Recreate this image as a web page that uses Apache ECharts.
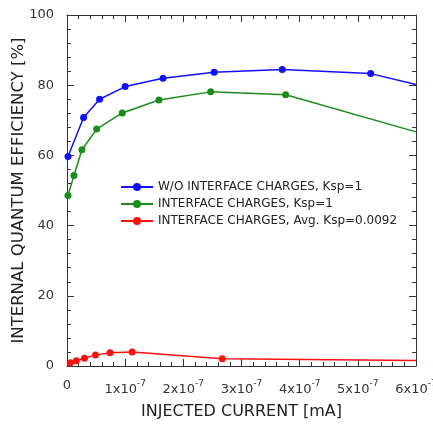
<!DOCTYPE html>
<html><head><meta charset="utf-8">
<script src="https://cdn.jsdelivr.net/npm/echarts@6/dist/echarts.min.js"></script>
<style>html,body{margin:0;padding:0;background:#fff}#c{width:433px;height:426px}</style>
</head><body><div id="c"></div>
<script>
const seriesNames = ["W/O INTERFACE CHARGES, Ksp=1", "INTERFACE CHARGES, Ksp=1", "INTERFACE CHARGES, Avg. Ksp=0.0092"];
const blueX = [0.017e-7, 0.285e-7, 0.56e-7, 1.0e-7, 1.65e-7, 2.53e-7, 3.70e-7, 5.22e-7, 6.0e-7];
const blueY = [59.7, 70.8, 76.0, 79.6, 82.0, 83.7, 84.5, 83.3, 80.2];
const greenX = [0.017e-7, 0.12e-7, 0.257e-7, 0.51e-7, 0.95e-7, 1.58e-7, 2.47e-7, 3.76e-7, 6.0e-7];
const greenY = [48.6, 54.3, 61.6, 67.5, 72.1, 75.8, 78.1, 77.3, 66.7];
const redX = [0.057e-7, 0.16e-7, 0.3e-7, 0.49e-7, 0.74e-7, 1.12e-7, 2.67e-7, 6.0e-7];
const redY = [0.95, 1.5, 2.2, 3.1, 3.8, 4.0, 2.1, 1.6];
const colors = ["#1010ff", "#1a8c1a", "#ff1010"];
const xTickExp = -7;

function pts(xs, ys, lastHidden) {
  return xs.map((x, i) => {
    const d = { value: [x, ys[i]] };
    if (lastHidden && i === xs.length - 1) d.symbolSize = 0;
    return d;
  });
}
const font = "Tahoma, 'DejaVu Sans', sans-serif";
function axisCommon() {
  return {
    type: 'value',
    axisLine: { show: true, onZero: false, lineStyle: { color: '#333', width: 1 } },
    axisTick: { show: true, inside: true, length: 7, lineStyle: { color: '#333' } },
    minorTick: { show: true, splitNumber: 5, length: 4, lineStyle: { color: '#333' } },
    splitLine: { show: false },
    minorSplitLine: { show: false }
  };
}
const chart = echarts.init(document.getElementById('c'));
chart.setOption({
  animation: false,
  textStyle: { fontFamily: font },
  grid: { left: 67, right: 17, top: 15, bottom: 60, containLabel: false, outerBoundsMode: 'none' },
  xAxis: [
    Object.assign(axisCommon(), {
      min: 0, max: 6e-7, interval: 1e-7, position: 'bottom',
      name: 'INJECTED CURRENT [mA]', nameLocation: 'middle', nameGap: 38, nameMoveOverlap: false,
      nameTextStyle: { fontSize: 16, color: '#222', fontFamily: font },
      axisLabel: {
        margin: 13, color: '#333', fontSize: 13, fontFamily: font,
        formatter: v => { const n = Math.round(v / 1e-7); return n === 0 ? '0' : '{b|' + n + 'x10}{s|' + xTickExp + '}'; },
        rich: { b: { fontSize: 13, color: '#333', fontFamily: font, verticalAlign: 'bottom' },
                s: { fontSize: 9, color: '#333', fontFamily: font, verticalAlign: 'top', padding: [0, 0, 8, 0] } }
      }
    }),
    Object.assign(axisCommon(), {
      min: 0, max: 6e-7, interval: 1e-7, position: 'top', axisLabel: { show: false }
    })
  ],
  yAxis: [
    Object.assign(axisCommon(), {
      min: 0, max: 100, interval: 20, position: 'left',
      name: 'INTERNAL QUANTUM EFFICIENCY [%]', nameLocation: 'middle', nameGap: 48, nameRotate: 90, nameMoveOverlap: false,
      nameTextStyle: { fontSize: 16.5, color: '#222', fontFamily: font, verticalAlign: 'middle' },
      axisLabel: { margin: 13, color: '#333', fontSize: 13, fontFamily: font }
    }),
    Object.assign(axisCommon(), {
      min: 0, max: 100, interval: 20, position: 'right', axisLabel: { show: false }
    })
  ],
  legend: {
    orient: 'vertical', left: 115, top: 176, itemWidth: 32, itemHeight: 10, itemGap: 5,
    textStyle: { fontSize: 12, color: '#222', fontFamily: font },
    data: seriesNames
  },
  series: [
    { name: seriesNames[0], type: 'line', data: pts(blueX, blueY, true), color: colors[0], symbol: 'circle', symbolSize: 7, lineStyle: { width: 1.5 } },
    { name: seriesNames[1], type: 'line', data: pts(greenX, greenY, true), color: colors[1], symbol: 'circle', symbolSize: 7, lineStyle: { width: 1.5 } },
    { name: seriesNames[2], type: 'line', data: pts(redX, redY, true), color: colors[2], symbol: 'circle', symbolSize: 7, lineStyle: { width: 1.5 } }
  ]
});
</script></body></html>
